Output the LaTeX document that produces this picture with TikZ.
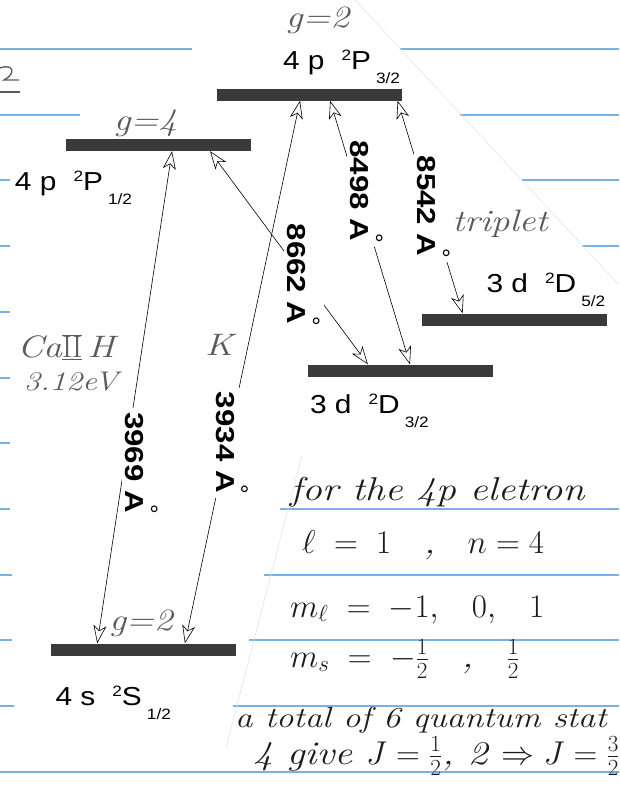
\RequirePackage{fix-cm}
\documentclass[tikz,border=0pt]{standalone}
\usepackage{fontspec}
\setsansfont{Liberation Sans}
\newfontfamily\lblfont[FakeStretch=1.15]{Liberation Sans}
\newfontfamily\wlfont[FakeStretch=1.2]{Liberation Sans}
\newfontfamily\handfont[FakeStretch=1.2]{Latin Modern Roman}
\usetikzlibrary{arrows.meta, positioning, calc}

\definecolor{rulec}{RGB}{118,178,232}
\definecolor{barc}{RGB}{58,58,58}
\definecolor{pencil}{RGB}{90,90,90}
\definecolor{ink}{RGB}{28,28,28}

% term symbol: n, l, L, J
\newcommand{\lvlname}[4]{#1 #2\hspace{17pt}\raisebox{9pt}{\fontsize{15}{15}\selectfont 2}#3\hspace{5pt}\raisebox{-14pt}{\fontsize{15}{15}\selectfont #4}}
% wavelength with the ring
\newcommand{\wlen}[1]{#1 A\kern-8pt\raisebox{15pt}{\sffamily\mdseries\fontsize{24}{24}\selectfont °}}

\begin{document}
\begin{tikzpicture}[
  x=1pt, y=-1pt,
  lvl/.style={rectangle, fill=barc, minimum width=185pt, minimum height=12pt, inner sep=0pt},
  lbl/.style={inner sep=0pt, font=\lblfont\fontsize{26}{30}\selectfont},
  hand/.style={inner sep=0pt, text=pencil, font=\handfont\itshape\fontsize{31}{34}\selectfont},
  note/.style={inner sep=0pt, text=ink, anchor=base west, font=\handfont\itshape\fontsize{33}{36}\selectfont},
  tr/.style={<->, >={Stealth[open, length=18pt, width=13pt, inset=5pt]}, line width=0.6pt},
  wl/.style={rotate=-90, fill=white, inner sep=4pt, font=\wlfont\bfseries\fontsize{26}{30}\selectfont},
  ruled/.style={draw=rulec, line width=1.4pt}
]
\useasboundingbox (0,0) rectangle (619,785);
\clip (0,0) rectangle (619,785);

% ruled paper
\foreach \y/\a in {49/192, 115/80, 180/10, 246/10, 312/10, 378/10, 443/10, 509/10, 575/12, 640/12, 706/14}
  \draw[ruled] (0,\y) -- (\a,\y);
\foreach \y/\b in {49/400, 115/460, 180/522, 246/582, 509/280, 575/264, 640/249, 706/233}
  \draw[ruled] (\b,\y) -- (619,\y);
\draw[ruled] (0,772) -- (619,772);
\draw[black!10, line width=0.6pt] (355,0) -- (619,285);
\draw[black!10, line width=0.6pt] (302,455) -- (226,748);
\draw[pencil, line width=1.3pt] (0,68) .. controls (14,63) and (16,74) .. (4,80) -- (19,80);
\draw[pencil, line width=1.3pt] (0,92) -- (20,92);

% levels
\node[lvl] (p32) at (309.5,94.5) {};
\node[lvl] (p12) at (158.5,145) {};
\node[lvl] (d52) at (514,319.5) {};
\node[lvl] (d32) at (400.5,370.5) {};
\node[lvl] (s12) at (143,649.5) {};

\node[lbl, above right=18.5pt and 66pt of p32.north west, anchor=base west] (tp32) {\lvlname{4}{p}{P}{3/2}};
\node[lbl, below left=39pt and 51pt of p12.south west, anchor=base west] (tp12) {\lvlname{4}{p}{P}{1/2}};
\node[lbl, above right=20.5pt and 65pt of d52.north west, anchor=base west] (td52) {\lvlname{3}{d}{D}{5/2}};
\node[lbl, below right=36.5pt and 2pt of d32.south west, anchor=base west] (td32) {\lvlname{3}{d}{D}{3/2}};
\node[lbl, below right=49.5pt and 5pt of s12.south west, anchor=base west] (ts12) {\lvlname{4}{s}{S}{1/2}};

% degeneracies and notes in pencil
\node[hand, above=54pt of p32.north, xshift=8pt] (g32) {g=2};
\node[hand, above=2pt of p12.north, xshift=-13pt] (g12) {g=4};
\node[hand, above=6pt of s12.north, xshift=-2pt] (gs) {g=2};
\node[hand, above=76pt of d52.north, xshift=-14pt] (trip) {triplet};
\node[hand] (ca) at (66,347) {Ca$\overline{\underline{\mathrm{II}}}$\,H};
\node[hand, font=\handfont\itshape\fontsize{27}{30}\selectfont, below=12pt of ca.south, anchor=north, xshift=5pt] (ev) {3.12eV};
\node[hand] (kk) at (219,345) {K};

% transitions
\draw[tr] ($(p12.south west)!.573!(p12.south east)$) -- node[xshift=17pt, wl, pos=.634] {\wlen{3969}} ($(s12.north west)!.253!(s12.north east)$);
\draw[tr] ($(p32.south west)!.449!(p32.south east)$) -- node[xshift=4.5pt, wl, pos=.631] {\wlen{3934}} ($(s12.north west)!.726!(s12.north east)$);
\draw[tr] ($(p12.south west)!.778!(p12.south east)$) -- node[xshift=2pt, wl, pos=.58] {\wlen{8662}} ($(d32.north west)!.324!(d32.north east)$);
\draw[tr] ($(p32.south west)!.611!(p32.south east)$) -- node[xshift=9pt, wl, pos=.345] {\wlen{8498}} ($(d32.north west)!.551!(d32.north east)$);
\draw[tr] ($(p32.south west)!.975!(p32.south east)$) -- node[xshift=3.4pt, wl, pos=.5] {\wlen{8542}} ($(d52.north west)!.223!(d52.north east)$);

% notes in ink
\node[note] (n1) at (290,500) {for the 4p eletron};
\node[note] (n2) at (302,553) {$\ell \;=\; 1$\;\; ,\;\; $n=4$};
\node[note] (n3) at (290,617) {$m_\ell \;=\; -1,\ \ 0,\ \ 1$};
\node[note] (n4) at (290,667) {$m_s \;=\; -\frac{1}{2}$\quad ,\quad $\frac{1}{2}$};
\node[note, font=\handfont\itshape\fontsize{29}{32}\selectfont] (n5) at (235,727) {a total of 6 quantum stat};
\node[note] (n6) at (253,764) {4 give $J=\frac{1}{2}$, 2 $\Rightarrow J=\frac{3}{2}$};
\end{tikzpicture}
\end{document}
